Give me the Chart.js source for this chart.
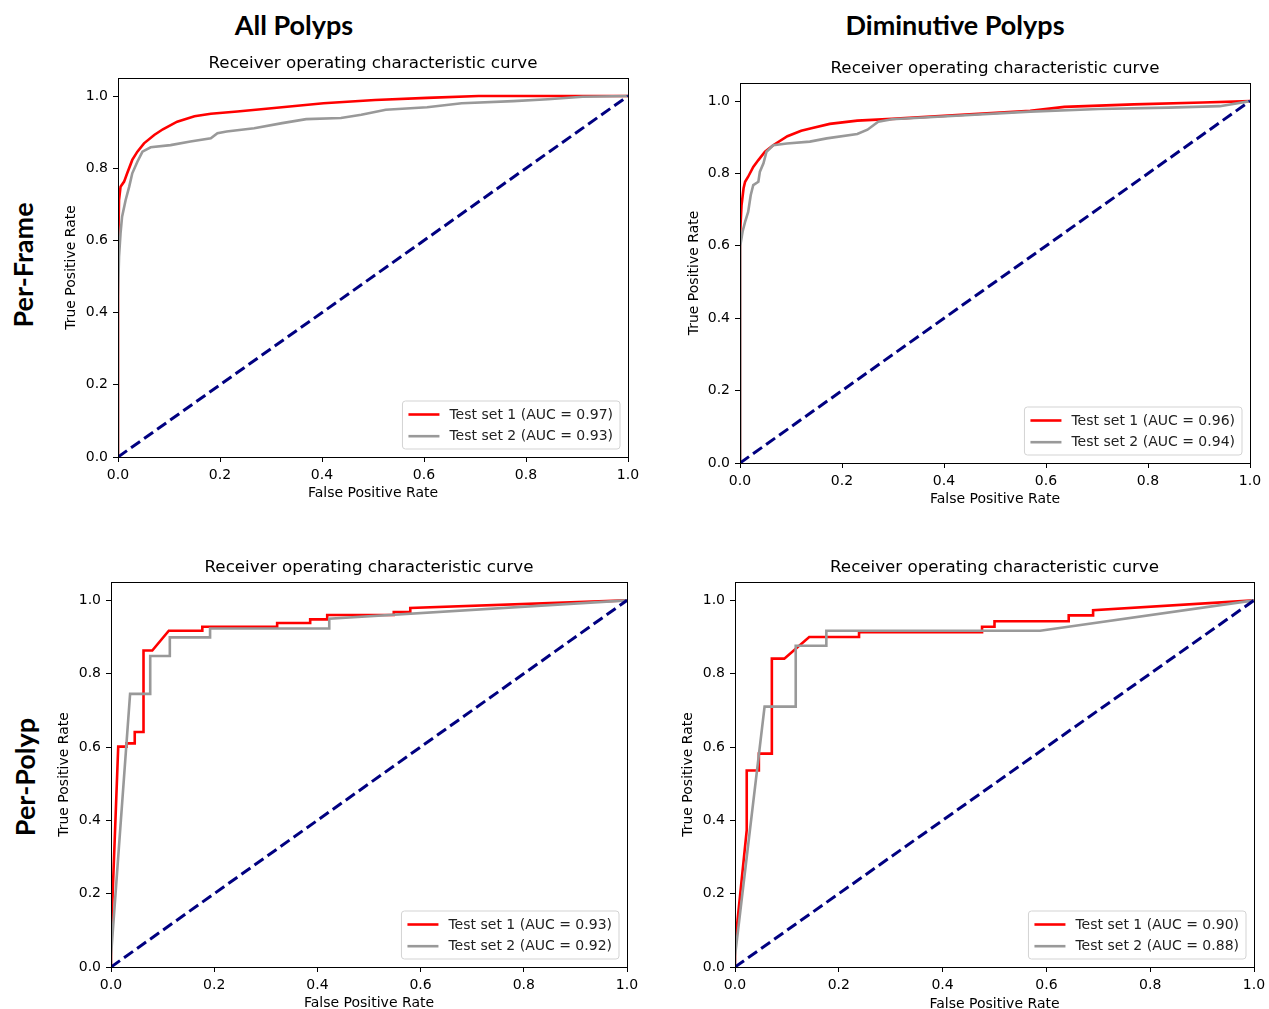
<!DOCTYPE html>
<html>
<head>
<meta charset="utf-8">
<title>ROC curves</title>
<script src="https://cdn.jsdelivr.net/npm/chart.js@4.4.1/dist/chart.umd.min.js"></script>
<style>
  html, body { margin: 0; padding: 0; background: #fff; }
  #page { position: relative; width: 1269px; height: 1009px; overflow: hidden; font-family: Lato, "Open Sans", sans-serif; }
  .head { position: absolute; font-weight: 700; font-size: 27px; color: #000; white-space: nowrap; transform: translate(-50%, -50%); }
  .head.row { transform: translate(-50%, -50%) rotate(-90deg); }
  canvas { position: absolute; }
</style>
</head>
<body>
<div id="page">
  <div class="head" style="left:294px;top:24px">All Polyps</div>
  <div class="head" style="left:955px;top:24px">Diminutive Polyps</div>
  <div class="head row" style="left:22px;top:265px">Per-Frame</div>
  <div class="head row" style="left:24px;top:777px">Per-Polyp</div>
  <canvas id="c1"></canvas>
  <canvas id="c2"></canvas>
  <canvas id="c3"></canvas>
  <canvas id="c4"></canvas>
</div>
<script>
// ── Data ──
var chartTitle = 'Receiver operating characteristic curve';
var xLabel = 'False Positive Rate';
var yLabel = 'True Positive Rate';
var tickValues = [0, 0.2, 0.4, 0.6, 0.8, 1.0];
var chanceFpr = [0, 1];
var chanceTpr = [0, 1];

// All polyps, per-frame
var allFrameFpr1 = [0, 0, 0.002, 0.005, 0.012, 0.018, 0.028, 0.038, 0.051, 0.071, 0.088, 0.116, 0.150, 0.182, 0.234, 0.301, 0.403, 0.504, 0.606, 0.707, 1];
var allFrameTpr1 = [0, 0.55, 0.712, 0.749, 0.763, 0.786, 0.823, 0.846, 0.869, 0.892, 0.908, 0.929, 0.944, 0.951, 0.957, 0.966, 0.980, 0.989, 0.995, 1.0, 1];
var allFrameFpr2 = [0, 0, 0.002, 0.005, 0.008, 0.015, 0.022, 0.028, 0.038, 0.048, 0.064, 0.103, 0.142, 0.182, 0.195, 0.213, 0.267, 0.322, 0.369, 0.437, 0.477, 0.525, 0.606, 0.674, 0.775, 0.843, 0.911, 1];
var allFrameTpr2 = [0, 0.444, 0.555, 0.620, 0.666, 0.712, 0.749, 0.786, 0.818, 0.846, 0.858, 0.864, 0.874, 0.883, 0.897, 0.902, 0.911, 0.925, 0.936, 0.939, 0.948, 0.962, 0.969, 0.980, 0.986, 0.991, 0.998, 1];

// Diminutive polyps, per-frame
var dimFrameFpr1 = [0, 0, 0.003, 0.007, 0.010, 0.016, 0.026, 0.036, 0.049, 0.065, 0.093, 0.120, 0.140, 0.176, 0.230, 0.298, 0.433, 0.569, 0.636, 0.772, 0.907, 1];
var dimFrameTpr1 = [0, 0.63, 0.712, 0.759, 0.777, 0.791, 0.818, 0.837, 0.860, 0.878, 0.903, 0.918, 0.925, 0.937, 0.946, 0.951, 0.962, 0.973, 0.984, 0.991, 0.996, 1];
var dimFrameFpr2 = [0, 0, 0.001, 0.005, 0.010, 0.016, 0.021, 0.026, 0.036, 0.039, 0.046, 0.052, 0.065, 0.092, 0.137, 0.170, 0.230, 0.250, 0.271, 0.298, 0.433, 0.569, 0.704, 0.840, 0.941, 1];
var dimFrameTpr2 = [0, 0.51, 0.600, 0.639, 0.666, 0.694, 0.740, 0.768, 0.777, 0.805, 0.828, 0.860, 0.878, 0.883, 0.888, 0.897, 0.909, 0.921, 0.943, 0.950, 0.960, 0.971, 0.978, 0.982, 0.986, 1];

// All polyps, per-polyp
var allPolypFpr1 = [0, 0, 0.014, 0.030, 0.030, 0.046, 0.046, 0.063, 0.063, 0.080, 0.112, 0.177, 0.177, 0.322, 0.322, 0.386, 0.386, 0.419, 0.419, 0.548, 0.548, 0.580, 0.580, 1];
var allPolypTpr1 = [0, 0.08, 0.601, 0.601, 0.610, 0.610, 0.641, 0.641, 0.863, 0.863, 0.917, 0.917, 0.928, 0.928, 0.938, 0.938, 0.948, 0.948, 0.960, 0.960, 0.968, 0.968, 0.979, 1];
var allPolypFpr2 = [0, 0, 0.037, 0.076, 0.076, 0.114, 0.114, 0.192, 0.192, 0.423, 0.423, 1];
var allPolypTpr2 = [0, 0.03, 0.745, 0.745, 0.848, 0.848, 0.899, 0.899, 0.923, 0.923, 0.950, 1];

// Diminutive polyps, per-polyp
var dimPolypFpr1 = [0, 0, 0.0226, 0.0226, 0.046, 0.046, 0.071, 0.071, 0.095, 0.143, 0.239, 0.239, 0.476, 0.476, 0.500, 0.500, 0.643, 0.643, 0.690, 0.690, 1];
var dimPolypTpr1 = [0, 0.06, 0.373, 0.536, 0.536, 0.582, 0.582, 0.841, 0.841, 0.900, 0.900, 0.913, 0.913, 0.928, 0.928, 0.943, 0.943, 0.959, 0.959, 0.973, 1];
var dimPolypFpr2 = [0, 0, 0.057, 0.117, 0.117, 0.176, 0.176, 0.588, 1];
var dimPolypTpr2 = [0, 0.03, 0.710, 0.710, 0.876, 0.876, 0.917, 0.917, 1];

var aucSet1 = [0.97, 0.96, 0.93, 0.90];
var aucSet2 = [0.93, 0.94, 0.92, 0.88];

// ── Layout (pixel positions of each panel) ──
var panels = [
  { id: 'c1', L: 118, R: 628, T: 78, B: 457, yTitleX: 71, xTitleY: 492, fpr1: allFrameFpr1, tpr1: allFrameTpr1, fpr2: allFrameFpr2, tpr2: allFrameTpr2 },
  { id: 'c2', L: 740, R: 1250, T: 83, B: 463, yTitleX: 694, xTitleY: 498, fpr1: dimFrameFpr1, tpr1: dimFrameTpr1, fpr2: dimFrameFpr2, tpr2: dimFrameTpr2 },
  { id: 'c3', L: 111, R: 627, T: 582, B: 967, yTitleX: 64, xTitleY: 1002, fpr1: allPolypFpr1, tpr1: allPolypTpr1, fpr2: allPolypFpr2, tpr2: allPolypTpr2 },
  { id: 'c4', L: 735, R: 1254, T: 582, B: 967, yTitleX: 688, xTitleY: 1003, fpr1: dimPolypFpr1, tpr1: dimPolypTpr1, fpr2: dimPolypFpr2, tpr2: dimPolypTpr2 }
];

var FONT = '"DejaVu Sans", sans-serif';
var PAD_TOP = 40, PAD_RIGHT = 24;

// ── Helpers ──
function points(xs, ys) {
  return xs.map(function(x, i) { return { x: x, y: ys[i] }; });
}

function fmt(v) { return Number(v).toFixed(1); }

// frame, title and matplotlib-style legend
var panelDecor = {
  id: 'panelDecor',
  afterDatasetsDraw: function(chart) {
    var ctx = chart.ctx, a = chart.chartArea;
    ctx.save();
    ctx.strokeStyle = '#000';
    ctx.lineWidth = 1;
    ctx.strokeRect(Math.round(a.left) + 0.5, Math.round(a.top) + 0.5, Math.round(a.right - a.left), Math.round(a.bottom - a.top));

    ctx.fillStyle = '#000';
    ctx.font = '16.7px ' + FONT;
    ctx.textAlign = 'center';
    ctx.textBaseline = 'middle';
    ctx.fillText(chartTitle, (a.left + a.right) / 2, a.top - 14);

    // legend
    var items = chart.data.datasets.filter(function(ds) { return ds.label; });
    ctx.font = '14px ' + FONT;
    var tw = 0;
    items.forEach(function(ds) { tw = Math.max(tw, ctx.measureText(ds.label).width); });
    var w = 6 + 31 + 10 + tw + 7, h = 48;
    var x0 = a.right - 8 - w, y0 = a.bottom - 8 - h;
    ctx.beginPath();
    ctx.roundRect(x0, y0, w, h, 3);
    ctx.fillStyle = 'rgba(255,255,255,0.85)';
    ctx.fill();
    ctx.strokeStyle = '#d3d3d3';
    ctx.stroke();
    ctx.textAlign = 'left';
    items.forEach(function(ds, i) {
      var y = y0 + 13.5 + i * 21.7;
      ctx.beginPath();
      ctx.moveTo(x0 + 6, y);
      ctx.lineTo(x0 + 37, y);
      ctx.strokeStyle = ds.borderColor;
      ctx.lineWidth = 2.6;
      ctx.stroke();
      ctx.fillStyle = '#222';
      ctx.fillText(ds.label, x0 + 47, y + 0.5);
    });
    ctx.restore();
  }
};

function axis(max, title, fitFn) {
  return {
    type: 'linear',
    min: 0,
    max: max,
    afterFit: fitFn,
    afterBuildTicks: function(scale) { scale.ticks = tickValues.map(function(v) { return { value: v }; }); },
    ticks: {
      includeBounds: false,
      autoSkip: false,
      maxRotation: 0,
      padding: 5,
      color: '#000',
      font: { family: FONT, size: 14 },
      callback: fmt
    },
    grid: { display: true, drawOnChartArea: false, drawTicks: true, tickLength: 5, color: '#000', lineWidth: 1 },
    border: { display: false },
    title: { display: true, text: title, color: '#000', padding: 0, font: { family: FONT, size: 14 } }
  };
}

// ── Build panels ──
panels.forEach(function(p, idx) {
  var left = Math.round(p.yTitleX - 8.4);
  var top = p.T - PAD_TOP;
  var bottom = Math.round(p.xTitleY + 10.4);
  var yAxisW = p.L - left;
  var xAxisH = bottom - p.B;
  var el = document.getElementById(p.id);
  el.style.left = left + 'px';
  el.style.top = top + 'px';
  el.width = p.R - left + PAD_RIGHT;
  el.height = bottom - top;

  new Chart(el, {
    type: 'line',
    data: {
      datasets: [
        {
          label: 'Test set 1 (AUC = ' + aucSet1[idx].toFixed(2) + ')',
          data: points(p.fpr1, p.tpr1),
          borderColor: '#ff0000', borderWidth: 2.6, order: 3
        },
        {
          label: 'Test set 2 (AUC = ' + aucSet2[idx].toFixed(2) + ')',
          data: points(p.fpr2, p.tpr2),
          borderColor: '#999999', borderWidth: 2.6, order: 2
        },
        {
          label: '',
          data: points(chanceFpr, chanceTpr),
          borderColor: '#000080', borderWidth: 3, borderDash: [11, 5], order: 1
        }
      ]
    },
    options: {
      responsive: false,
      animation: false,
      devicePixelRatio: 1,
      layout: { padding: { top: PAD_TOP, right: PAD_RIGHT, left: 0, bottom: 0 } },
      elements: { point: { radius: 0, hoverRadius: 0 }, line: { tension: 0, fill: false } },
      plugins: { legend: { display: false }, title: { display: false }, tooltip: { enabled: false } },
      scales: {
        x: axis(1.0, xLabel, function(s) { s.height = xAxisH; }),
        y: axis(1.05, yLabel, function(s) { s.width = yAxisW; })
      }
    },
    plugins: [panelDecor]
  });
});
</script>
</body>
</html>
